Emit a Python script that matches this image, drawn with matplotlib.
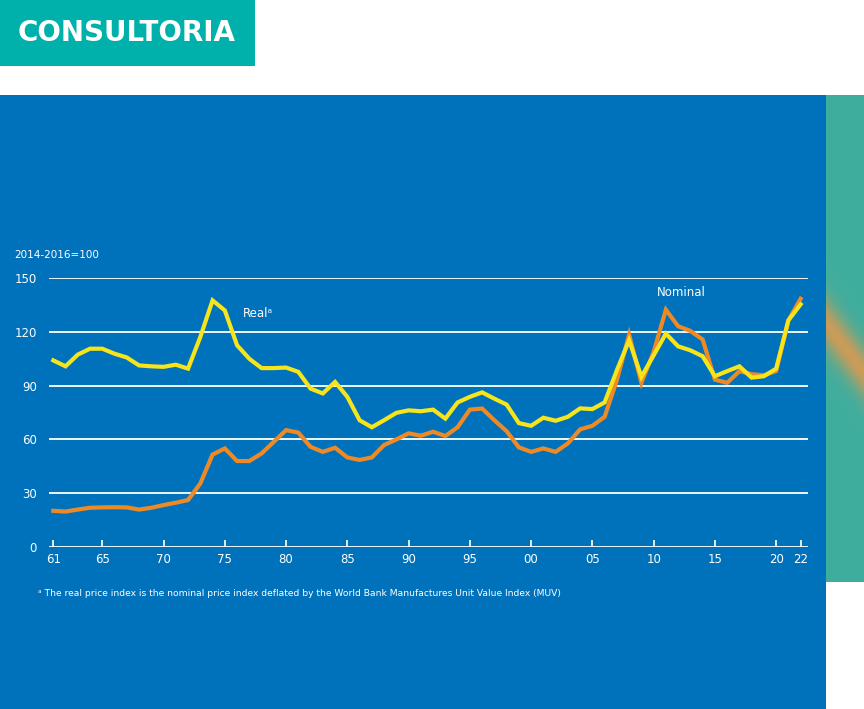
import numpy as np
import matplotlib
matplotlib.use("Agg")
import matplotlib.pyplot as plt
from matplotlib.patches import Rectangle

# ---- data ----
years = list(range(1961, 2023))
real = [104.0, 100.7, 107.2, 110.5, 110.5, 107.7, 105.6, 101.2, 100.7, 100.4,
        101.6, 99.4, 117.0, 137.4, 131.8, 112.4, 104.9, 99.7, 99.7, 100.0,
        97.6, 88.3, 85.6, 92.0, 83.7, 70.7, 66.8, 70.7, 74.8, 76.2,
        75.7, 76.6, 71.6, 80.6, 83.7, 86.2, 82.7, 79.4, 69.1, 67.6,
        72.1, 70.4, 72.6, 77.3, 76.9, 80.6, 98.5, 115.2, 94.8, 106.8,
        118.9, 111.8, 109.6, 106.3, 95.2, 98.0, 100.7, 94.4, 95.2, 99.4,
        126.3, 135.2]
nominal = [20.3, 19.9, 21.0, 22.0, 22.2, 22.3, 22.2, 21.0, 22.0, 23.5,
           24.8, 26.3, 35.5, 51.6, 55.0, 48.0, 48.0, 52.2, 58.7, 65.2,
           63.8, 55.9, 53.1, 55.4, 50.0, 48.6, 50.0, 56.9, 60.0, 63.4,
           62.1, 64.3, 61.9, 66.8, 76.6, 77.2, 70.7, 64.6, 55.6, 53.1,
           55.0, 53.1, 57.8, 65.6, 67.6, 72.6, 93.0, 118.3, 91.5, 108.7,
           132.2, 123.0, 120.4, 115.6, 93.3, 91.5, 98.0, 96.3, 95.7, 98.1,
           126.3, 138.3]
xticks = [1961, 1965, 1970, 1975, 1980, 1985, 1990, 1995, 2000, 2005, 2010, 2015, 2020, 2022]
xticklabels = ["61", "65", "70", "75", "80", "85", "90", "95", "00", "05", "10", "15", "20", "22"]
yticks = [0, 30, 60, 90, 120, 150]

W, H = 864, 709
BLUE = "#0072BB"
TEAL = "#00B0AA"
YELLOW = "#F7E41A"
ORANGE = "#EE8A26"

fig = plt.figure(figsize=(W / 100, H / 100), dpi=100)
fig.patch.set_facecolor("white")

# background decorations (figure pixel coordinates)
bg = fig.add_axes([0, 0, 1, 1])
bg.axis("off")
bg.add_patch(Rectangle((0, 0), 255, 66, color=TEAL, lw=0))
bg.add_patch(Rectangle((0, 95), 826, H - 95, color=BLUE, lw=0))
# textured side strip: teal with a broad diagonal orange band (pixel grid 38 x 487)
px = np.arange(38)[None, :]
py = np.arange(487)[:, None]
dist = py - (228 + 1.3 * px)
band = 0.85 * np.exp(-(dist / 26.0) ** 2)
teal_c = np.array([0.25, 0.68, 0.62])
orng_c = np.array([0.89, 0.60, 0.30])
img = teal_c[None, None, :] * (1 - band[..., None]) + orng_c[None, None, :] * band[..., None]
bg.imshow(img, extent=(826, 864, 582, 95), aspect="auto", interpolation="nearest", origin="upper")
bg.set_xlim(0, W)
bg.set_ylim(H, 0)

bg.text(18, 33, "CONSULTORIA", color="white", fontsize=20, fontweight="bold",
        va="center", ha="left", fontfamily="DejaVu Sans")
bg.text(14, 255, "2014-2016=100", color="white", fontsize=7.5, va="center", ha="left")
bg.text(38, 593, "ᵃ The real price index is the nominal price index deflated by the World Bank Manufactures Unit Value Index (MUV)",
        color="white", fontsize=6.6, va="center", ha="left")

# chart axes
x0, x1 = 49, 808
y0, y1 = 547.3, 277.7
ax = fig.add_axes([x0 / W, 1 - y0 / H, (x1 - x0) / W, (y0 - y1) / H])
ax.patch.set_alpha(0)
ax.set_xlim(1960.65, 2022.6)
ax.set_ylim(0, 150)
for s in ax.spines.values():
    s.set_visible(False)
for v in yticks[1:]:
    ax.axhline(v, color="white", lw=1.3, zorder=1)
ax.axhline(0, color="white", lw=1.3, zorder=1)

ax.plot(years, nominal, color=ORANGE, lw=3.0, solid_joinstyle="miter", zorder=3, clip_on=False)
ax.plot(years, real, color=YELLOW, lw=3.0, solid_joinstyle="miter", zorder=4, clip_on=False)

ax.set_xticks(xticks)
ax.set_xticklabels(xticklabels)
ax.set_yticks(yticks)
ax.set_yticklabels([str(v) for v in yticks])
ax.tick_params(axis="x", direction="in", length=5, width=1.2, color="white",
               labelcolor="white", labelsize=8.5, pad=4)
ax.tick_params(axis="y", length=0, labelcolor="white", labelsize=8.5, pad=8.6)

ax.text(1976.5, 130, "Realᵃ", color="white", fontsize=8.5, ha="left", va="center")
ax.text(2010.3, 141.5, "Nominal", color="white", fontsize=8.5, ha="left", va="center")

fig.savefig("out.png", dpi=100, facecolor=fig.get_facecolor())
